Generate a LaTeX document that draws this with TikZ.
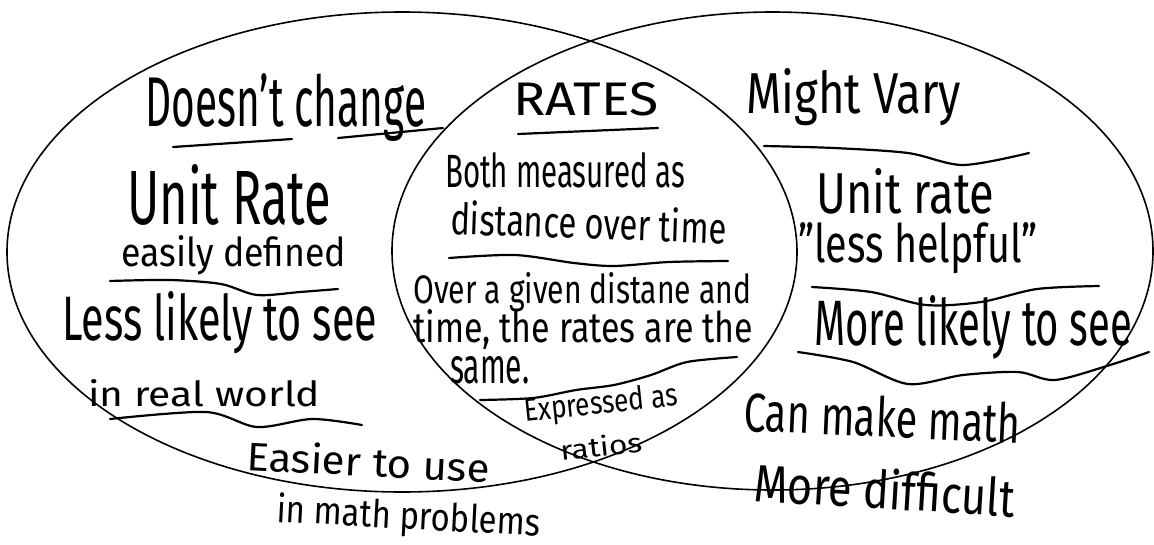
\documentclass[tikz,border=0pt]{standalone}
\usepackage{fontspec}
\setmainfont{Fira Sans}
\usepackage{graphicx}
\newcommand{\hwtext}[3]{\resizebox{#1pt}{#2pt}{#3}}
\tikzset{
  hw/.style={inner sep=0pt, anchor=base west, text=black},
  hwc/.style={inner sep=0pt, anchor=center, text=black},
  venn/.style={draw=black, line width=1.6pt},
  ink/.style={draw=black, line width=2.2pt, line cap=round, line join=round},
}
\begin{document}
\begin{tikzpicture}[x=1pt,y=-1pt]
\useasboundingbox (0,0) rectangle (1154,544);
\fill[white] (0,0) rectangle (1154,544);
% Venn ellipses
\draw[venn] (402,252) ellipse [x radius=395, y radius=240];
\draw[venn] (772.5,251) ellipse [x radius=380.5, y radius=239];

% Left set
\node[hw] (dc) at (145,126) {\hwtext{281}{53}{Doesn't change}};
\draw[ink] (173,147) -- (292,139);
\draw[ink] (338,138) -- (443,128);
\node[hw] (ur) at (127,224) {\hwtext{204}{60}{Unit Rate}};
\node[hw] (ed) at (121,266) {\hwtext{225}{31}{easily defined}};
\draw[ink] plot[smooth] coordinates {(110,281) (170,280) (221,284) (257,295) (300,292) (338,289)};
\node[hw] (ll) at (62,340) {\hwtext{315}{49}{Less likely to see}};
\node[hw] (rw) at (88,406) {\hwtext{232}{27}{in real world}};
\draw[ink] plot[smooth] coordinates {(110,419) (206,412) (257,427) (312,419) (362,425)};
\node[hw, rotate=-3] (eu) at (246,470) {\hwtext{243}{31}{Easier to use}};
\node[hw, rotate=-3] (mp) at (276,522) {\hwtext{264}{30}{in math problems}};

% Middle
\node[hw] (rt) at (513,115) {\hwtext{145}{33}{RATES}};
\draw[ink] (518,134) -- (658,128);
\node[hw] (bm) at (445,187) {\hwtext{240}{35}{Both measured as}};
\node[hw, rotate=-2] (dt) at (450,234) {\hwtext{276}{34}{distance over time}};
\draw[ink] plot[smooth] coordinates {(449,258) (515,255) (574,263) (614,266) (669,262) (728,261)};
\node[hw] (og) at (413,303) {\hwtext{338}{31}{Over a given distane and}};
\node[hw] (tr) at (413,342) {\hwtext{340}{33}{time, the rates are the}};
\node[hw] (sm) at (450,383) {\hwtext{79}{27}{same.}};
\draw[ink] plot[smooth] coordinates {(480,400) (533,398) (576,390) (614,385) (651,375) (687,362) (737,357)};
\node[hwc, rotate=6] (ex) at (601,405) {\hwtext{154}{24}{Expressed as}};
\node[hwc, rotate=6] (ra) at (601,446) {\hwtext{82}{21}{ratios}};

% Right set
\node[hw] (mv) at (746,113) {\hwtext{215}{45}{Might Vary}};
\draw[ink] plot[smooth] coordinates {(764,146) (834,148) (908,153) (963,165) (1029,153)};
\node[hw] (ur2) at (816,213) {\hwtext{178}{45}{Unit rate}};
\node[hw] (lh) at (798,262) {\hwtext{239}{40}{"less helpful"}};
\draw[ink] plot[smooth] coordinates {(812,287) (871,292) (926,305) (981,302) (1037,289) (1099,286)};
\node[hw] (ml) at (814,345) {\hwtext{318}{50}{More likely to see}};
\draw[ink] plot[smooth] coordinates {(798,352) (853,362) (908,384) (963,375) (1018,372) (1055,380) (1110,365) (1149,352)};
\node[hw, rotate=-2.5] (cm) at (743,431) {\hwtext{277}{41}{Can make math}};
\node[hw, rotate=-3.5] (md) at (753,501) {\hwtext{261}{41}{More difficult}};
\end{tikzpicture}
\end{document}
